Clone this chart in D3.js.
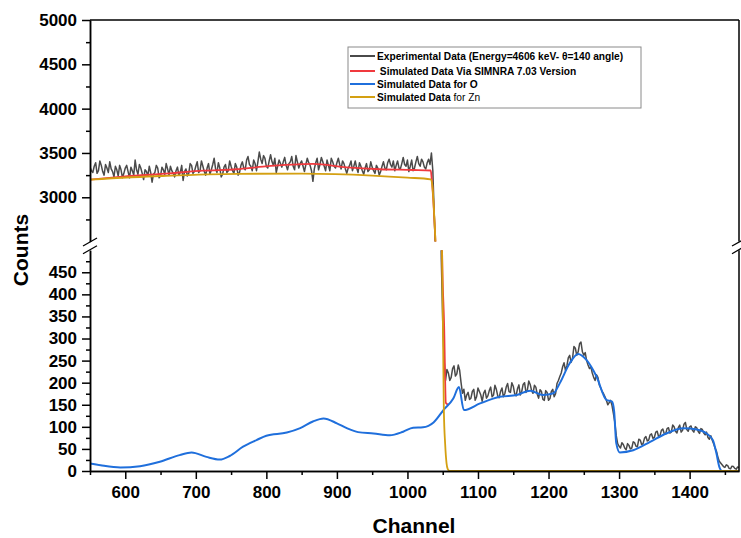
<!DOCTYPE html>
<html><head><meta charset="utf-8">
<script src="https://cdn.jsdelivr.net/npm/d3@7"></script>
<style>
body{margin:0;background:#fff}
svg{display:block;font-family:Arial,"Liberation Sans",sans-serif}
</style>
</head><body>
<svg id="c" width="741" height="538"></svg>
<script>
// ---------------- data ----------------
const expStartChannel = 550;
const expStepChannel = 2;
const expCounts = [
3340,3300,3280,3350,3390,3270,3300,3410,3360,3290,
3250,3370,3330,3280,3400,3320,3290,3230,3350,3310,
3240,3360,3310,3220,3270,3330,3360,3290,3220,3340,
3300,3250,3420,3310,3260,3370,3330,3270,3200,3310,
3290,3240,3350,3280,3170,3260,3280,3360,3330,3220,
3240,3340,3310,3260,3380,3320,3250,3350,3300,3270,
3230,3300,3340,3250,3280,3360,3190,3290,3320,3240,
3270,3380,3360,3270,3290,3350,3400,3280,3300,3410,
3350,3290,3250,3330,3380,3260,3310,3370,3440,3320,
3280,3390,3330,3230,3260,3340,3370,3280,3300,3410,
3350,3300,3270,3380,3340,3250,3280,3360,3400,3330,
3310,3420,3460,3370,3350,3300,3420,3380,3300,3400,
3510,3430,3380,3470,3440,3350,3330,3410,3480,3400,
3360,3440,3280,3350,3420,3380,3340,3400,3450,3360,
3310,3380,3400,3460,3350,3310,3470,3400,3330,3380,
3410,3350,3290,3370,3440,3390,3360,3300,3180,3320,
3390,3440,3310,3370,3450,3400,3350,3300,3420,3360,
3300,3440,3400,3350,3330,3390,3440,3370,3320,3410,
3380,3320,3270,3330,3360,3410,3300,3350,3410,3330,
3280,3390,3350,3300,3260,3330,3380,3290,3310,3400,
3340,3300,3270,3360,3330,3250,3290,3350,3400,3330,
3310,3390,3430,3370,3340,3410,3300,3360,3410,3330,
3320,3380,3450,3370,3350,3420,3290,3350,3420,3300,
3330,3400,3460,3380,3350,3430,3400,3340,3320,3390,
3430,3370,3500,3300,2800,2300,1500,1000,700,480,
340,250,205,230,222,205,212,232,238,215,
220,240,228,200,176,185,160,172,178,162,
165,180,185,160,168,188,180,172,158,176,
183,165,170,182,190,168,172,194,185,170,
166,180,188,168,175,190,198,180,178,200,
192,175,170,186,195,172,180,196,200,178,
183,204,196,182,176,194,190,174,165,184,
180,162,160,182,178,160,164,180,185,168,
175,198,205,214,222,236,245,228,238,256,
262,246,255,282,278,262,270,288,292,270,
262,268,250,240,232,236,222,212,205,218,
212,195,188,180,175,168,160,150,155,160,
148,130,110,80,62,56,52,64,60,52,
48,62,58,50,52,66,64,56,55,72,
70,60,62,74,78,68,70,82,84,74,
76,88,90,78,80,92,95,85,84,96,
98,86,88,104,100,90,86,98,104,88,
92,106,110,94,90,100,102,92,88,100,
98,90,85,96,94,86,82,88,76,72,
80,70,62,52,45,32,22,18,14,10,
8,14,12,6,5,11,10,6,4,9,
8
];

const redChannels = [550,600,663,710,758,795,866,914,961,1008,1033,1034.5,1039.7,1045,1049,1052,1054.5,1058];
const redCounts   = [3200,3235,3270,3300,3316,3345,3376,3338,3316,3308,3302,3200,2500,1400,510,330,154,150];

const znChannels = [550,650,760,850,950,1000,1033,1035,1039.7,1045,1049,1050.5,1051.6,1053.5,1055.4,1057,1060,1470];
const znCounts   = [3200,3240,3265,3266,3245,3222,3203,3150,2500,1300,500,300,138,60,18,5,0,0];

const oChannels = [550,565,593,621,649,677,694,715,734,748,767,786,800,829,848,866,881,900,914,930,952,975,994,1008,1022,1037,1051,1065,1073,1080,1103,1131,1155,1174,1192,1207,1216,1230,1242,1254,1268,1282,1290,1293,1296,1301,1320,1344,1367,1391,1410,1424,1433,1438,1442,1446,1470];
const oCounts   = [17,13,8,11,21,36,42,32,26,34,55,70,80,87,97,112,119,108,97,88,85,81,89,98,99,110,138,164,190,138,153,168,172,182,172,176,199,244,265,251,214,161,157,135,63,42,47,66,85,97,94,85,70,40,10,0,0];

const xTickValues = [600,700,800,900,1000,1100,1200,1300,1400];
const xMinorTickValues = [550,650,750,850,950,1050,1150,1250,1350,1450];
const upperTickValues = [3000,3500,4000,4500,5000];
const upperMinorTickValues = [2750,3250,3750,4250,4750];
const lowerTickValues = [0,50,100,150,200,250,300,350,400,450];
const lowerMinorTickValues = [25,75,125,175,225,275,325,375,425,475];
const xDomain = [550,1470];
const upperDomain = [2500,5000];
const lowerDomain = [0,500];

const legendLabels = [
  "Experimental Data (Energy=4606 keV- θ=140 angle)",
  " Simulated Data Via SIMNRA 7.03 Version",
  "Simulated Data for O",
  "Simulated Data for Zn"
];
const xTitle = "Channel", yTitle = "Counts";

// ---------------- layout / style ----------------
const colors = {exp:"#4a4a4a", red:"#f0393e", o:"#1f6fdc", zn:"#d4a012"};
const L = 90, R = 739, T = 20, B = 471;
const upperBottom = 241.6, lowerTop = 250.2;

const svg = d3.select("#c");
const x = d3.scaleLinear().domain(xDomain).range([L, R]);
const yU = d3.scaleLinear().domain(upperDomain).range([upperBottom, T]);
const yL = d3.scaleLinear().domain(lowerDomain).range([B, lowerTop]);

const defs = svg.append("defs");
defs.append("clipPath").attr("id","clipU").append("rect")
  .attr("x", L).attr("y", yU(upperDomain[1])).attr("width", R-L).attr("height", yU(upperDomain[0]) - yU(upperDomain[1]));
defs.append("clipPath").attr("id","clipL").append("rect")
  .attr("x", L).attr("y", yL(lowerDomain[1])).attr("width", R-L).attr("height", yL(lowerDomain[0]) - yL(lowerDomain[1]));

const expData = expCounts.map((v,i)=>({c: expStartChannel + i*expStepChannel, v}));
const redData = redChannels.map((c,i)=>({c, v: redCounts[i]}));
const znData = znChannels.map((c,i)=>({c, v: znCounts[i]}));
const oData = oChannels.map((c,i)=>({c, v: oCounts[i]}));

const series = [
  {data: expData, color: colors.exp, w: 1.5, curve: d3.curveLinear},
  {data: redData, color: colors.red, w: 1.8, curve: d3.curveMonotoneX},
  {data: oData, color: colors.o, w: 2, curve: d3.curveMonotoneX},
  {data: znData, color: colors.zn, w: 1.8, curve: d3.curveMonotoneX}
];

[["clipU", yU], ["clipL", yL]].forEach(([clip, y]) => {
  const g = svg.append("g").attr("clip-path", `url(#${clip})`);
  series.forEach(s => {
    g.append("path").datum(s.data)
      .attr("fill","none").attr("stroke", s.color).attr("stroke-width", s.w)
      .attr("stroke-linejoin","round")
      .attr("d", d3.line().x(d=>x(d.c)).y(d=>y(d.v)).curve(s.curve));
  });
});

// axes
function styleAxis(g){
  g.selectAll("path.domain").attr("stroke","#000").attr("stroke-width",1.5);
  g.selectAll(".tick line").attr("stroke","#000").attr("stroke-width",1.5);
  g.selectAll(".tick text").attr("fill","#000").attr("font-size","17px").attr("font-weight","bold")
   .attr("font-family","Arial, 'Liberation Sans', sans-serif");
}
const fmt = d3.format("d");
styleAxis(svg.append("g").attr("transform",`translate(${L},0)`)
  .call(d3.axisLeft(yU).tickValues(upperTickValues).tickFormat(fmt).tickSize(8).tickSizeOuter(0).tickPadding(5)));
styleAxis(svg.append("g").attr("transform",`translate(${L},0)`)
  .call(d3.axisLeft(yU).tickValues(upperMinorTickValues).tickFormat("").tickSize(4).tickSizeOuter(0)));
styleAxis(svg.append("g").attr("transform",`translate(${L},0)`)
  .call(d3.axisLeft(yL).tickValues(lowerTickValues).tickFormat(fmt).tickSize(8).tickSizeOuter(0).tickPadding(5)));
styleAxis(svg.append("g").attr("transform",`translate(${L},0)`)
  .call(d3.axisLeft(yL).tickValues(lowerMinorTickValues).tickFormat("").tickSize(4).tickSizeOuter(0)));
styleAxis(svg.append("g").attr("transform",`translate(0,${B})`)
  .call(d3.axisBottom(x).tickValues(xTickValues).tickFormat(fmt).tickSize(8).tickSizeOuter(0).tickPadding(7)));
styleAxis(svg.append("g").attr("transform",`translate(0,${B})`)
  .call(d3.axisBottom(x).tickValues(xMinorTickValues).tickFormat("").tickSize(4).tickSizeOuter(0)));

// frame: top and right
const frame = svg.append("g").attr("stroke","#000").attr("stroke-width",1.5);
frame.append("line").attr("x1",L).attr("x2",R).attr("y1",yU(upperDomain[1])).attr("y2",yU(upperDomain[1]));
frame.append("line").attr("x1",R).attr("x2",R).attr("y1",yU(upperDomain[1])).attr("y2",yU(upperDomain[0]));
frame.append("line").attr("x1",R).attr("x2",R).attr("y1",yL(lowerDomain[1])).attr("y2",yL(lowerDomain[0]));

// break marks
const brk = svg.append("g").attr("stroke","#000").attr("stroke-width",1.2);
[L, R].forEach(ax => {
  [yU(upperDomain[0]) + 0.5, yL(lowerDomain[1]) - 0.5].forEach(cy => {
    brk.append("line").attr("x1", ax-7).attr("y1", cy+4).attr("x2", ax+7).attr("y2", cy-4);
  });
});

// titles
svg.append("text").attr("x", 414).attr("y", 533).attr("text-anchor","middle")
  .attr("font-size","21px").attr("font-weight","bold").text(xTitle);
svg.append("text").attr("transform","translate(28,250) rotate(-90)").attr("text-anchor","middle")
  .attr("font-size","21px").attr("font-weight","bold").text(yTitle);

// legend
const lg = svg.append("g");
lg.append("rect").attr("x",348).attr("y",47).attr("width",293).attr("height",61)
  .attr("fill","#fff").attr("stroke","#8a8a8a").attr("stroke-width",1);
const legendColors = [colors.exp, colors.red, colors.o, colors.zn];
const legendY = [56, 71, 84, 97];
legendLabels.forEach((lab,i) => {
  lg.append("line").attr("x1",350).attr("x2",375).attr("y1",legendY[i]).attr("y2",legendY[i])
    .attr("stroke",legendColors[i]).attr("stroke-width",2);
  const t = lg.append("text").attr("x",377).attr("y",legendY[i]+3.6)
    .attr("font-size","10.2px").attr("xml:space","preserve").style("white-space","pre");
  if (i === 3) {
    t.append("tspan").attr("font-weight","bold").text("Simulated Data");
    t.append("tspan").attr("font-weight","normal").text(" for Zn");
  } else {
    t.attr("font-weight","bold").text(lab);
  }
});
</script>
</body></html>
